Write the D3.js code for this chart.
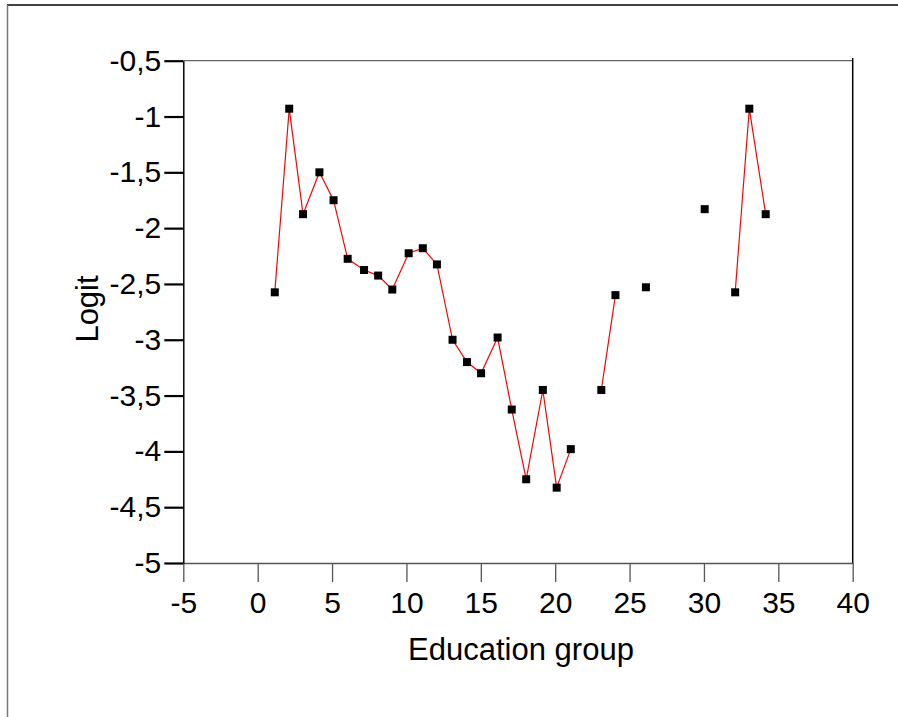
<!DOCTYPE html>
<html>
<head>
<meta charset="utf-8">
<script src="https://cdn.jsdelivr.net/npm/d3@7"></script>
<style>
  body { margin: 0; background: #fff; }
  text { font-family: Arial, "Liberation Sans", sans-serif; }
</style>
</head>
<body>
<svg id="chart" width="898" height="717"></svg>
<script>
// education group position (null logit = no point)
let educ = [1.15, 2.12, 3.05, 4.15, 5.1, 6.05, 7.15, 8.1, 9.05, 10.15, 11.1, 12.05,
            13.1, 14.07, 15.02, 16.13, 17.08, 18.05, 19.17, 20.1, 21.05, 22,
            23.1, 24.05, 25, 26.1, 27, 28, 29, 30.05, 31, 32.1, 33.05, 34.15]
let logit = [-2.575, -0.93, -1.875, -1.5, -1.75, -2.275, -2.375, -2.425, -2.55, -2.225, -2.18, -2.325,
             -3.0, -3.2, -3.3, -2.98, -3.625, -4.25, -3.45, -4.325, -3.98, null,
             -3.45, -2.6, null, -2.53, null, null, null, -1.83, null, -2.575, -0.93, -1.875]
let xTicks = [-5, 0, 5, 10, 15, 20, 25, 30, 35, 40]
let yTicks = [-5, -4.5, -4, -3.5, -3, -2.5, -2, -1.5, -1, -0.5]

let svg = d3.select('#chart')

// outer frame (page border)
svg.append('line').attr('x1', 7).attr('x2', 898).attr('y1', 5).attr('y2', 5)
  .attr('stroke', '#000').attr('stroke-width', 1.5)
svg.append('line').attr('x1', 7.5).attr('x2', 7.5).attr('y1', 5).attr('y2', 717)
  .attr('stroke', '#777').attr('stroke-width', 1.5)

let x = d3.scaleLinear().domain([-5, 40]).range([183.3, 852.7])
let y = d3.scaleLinear().domain([-5, -0.5]).range([563, 60.7])

// top and right borders of the plot box
svg.append('line').attr('x1', x(-5)).attr('x2', x(40)).attr('y1', y(-0.5)).attr('y2', y(-0.5))
  .attr('stroke', '#666').attr('stroke-width', 1.2)
svg.append('line').attr('x1', x(40)).attr('x2', x(40)).attr('y1', 58).attr('y2', y(-5))
  .attr('stroke', '#000').attr('stroke-width', 1.5)

// x axis
let gx = svg.append('g').attr('transform', 'translate(0,' + y(-5) + ')')
  .call(d3.axisBottom(x).tickValues(xTicks).tickSize(19).tickSizeOuter(0).tickPadding(10)
    .tickFormat(function(d){ return String(d) }))
gx.select('.domain').attr('stroke', '#555').attr('stroke-width', 1.3)
gx.selectAll('.tick line').attr('stroke', '#555').attr('stroke-width', 1.3)
gx.selectAll('.tick text').attr('font-size', 30).attr('fill', '#000')
  .attr('font-family', 'Arial, "Liberation Sans", sans-serif')

// y axis
let gy = svg.append('g').attr('transform', 'translate(' + x(-5) + ',0)')
  .call(d3.axisLeft(y).tickValues(yTicks).tickSize(19).tickSizeOuter(0).tickPadding(3)
    .tickFormat(function(d){ return String(d).replace('.', ',') }))
gy.select('.domain').attr('stroke', '#000').attr('stroke-width', 1.5)
gy.selectAll('.tick line').attr('stroke', '#000').attr('stroke-width', 2.2)
gy.selectAll('.tick text').attr('font-size', 30).attr('fill', '#000')
  .attr('font-family', 'Arial, "Liberation Sans", sans-serif')

// axis titles
svg.append('text').attr('x', 521).attr('y', 660).attr('text-anchor', 'middle')
  .attr('font-size', 31).text('Education group')
svg.append('text').attr('transform', 'translate(98,309) rotate(-90)')
  .attr('text-anchor', 'middle').attr('font-size', 31).text('Logit')

let data = educ.map(function(d, i){ return {x: d, y: logit[i]} })

// red connecting line, broken where a group is missing
let line = d3.line()
  .defined(function(d){ return d.y != null })
  .x(function(d){ return x(d.x) })
  .y(function(d){ return y(d.y) })
svg.append('path').datum(data).attr('d', line)
  .attr('fill', 'none').attr('stroke', '#ff0000').attr('stroke-width', 1.2)

// square markers
let sz = 8
svg.selectAll('.pt').data(data.filter(function(d){ return d.y != null }))
  .enter().append('rect').attr('class', 'pt')
  .attr('x', function(d){ return x(d.x) - sz / 2 })
  .attr('y', function(d){ return y(d.y) - sz / 2 })
  .attr('width', sz).attr('height', sz)
  .attr('fill', '#000')
</script>
</body>
</html>
